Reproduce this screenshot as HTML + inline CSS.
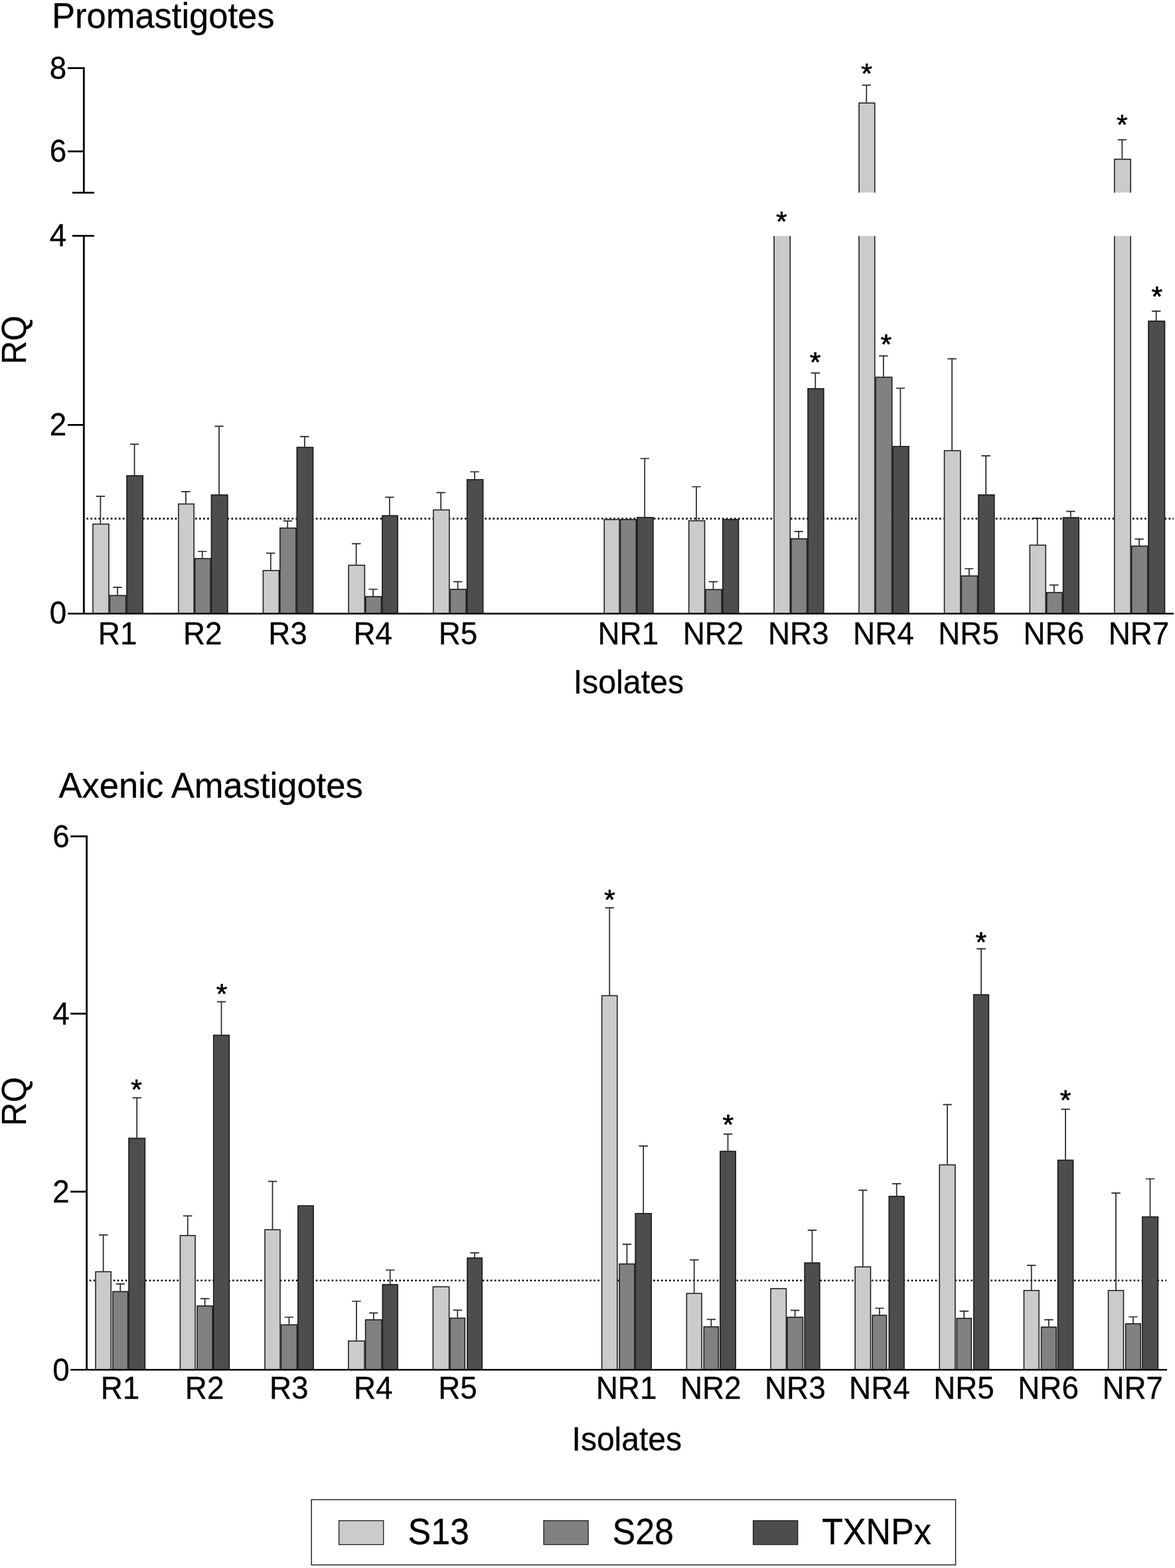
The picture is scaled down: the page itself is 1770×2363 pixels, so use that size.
<!DOCTYPE html>
<html lang="en"><head><meta charset="utf-8"><title>RQ of S13, S28 and TXNPx in isolates</title>
<style>html,body{margin:0;padding:0;background:#fff}body{width:1770px;height:2363px;overflow:hidden}svg{display:block}text{font-family:"Liberation Sans", sans-serif;fill:#000;stroke:#000;stroke-width:.3px}text.st{stroke-width:.7px;stroke-linejoin:round}</style>
</head><body>
<svg width="1770" height="2363" viewBox="0 0 1770 2363">
<rect width="1770" height="2363" fill="#fff"/>
<g id="chart1">
<text transform="translate(78,42.4) scale(1,1.03)" font-size="52.5">Promastigotes</text>
<text transform="translate(39,512.3) rotate(-90) scale(1,1.04)" font-size="49" text-anchor="middle">RQ</text>
<text transform="translate(946.9,1045) scale(1,1.035)" font-size="48.3" text-anchor="middle">Isolates</text>
<line x1="130.3" y1="781.7" x2="1768" y2="781.7" stroke="#111" stroke-width="2.7" stroke-dasharray="2.7 3.36"/>
<rect x="139.2" y="789" width="25.45" height="135" fill="#cbcbcb"/>
<path d="M139.95 924V789.75H163.9V924" fill="none" stroke="#1a1a1a" stroke-width="1.5"/>
<path d="M151.33 789V747.9M144.63 747.9H158.03" fill="none" stroke="#262626" stroke-width="1.7"/>
<rect x="164.65" y="896.8" width="25.75" height="27.2" fill="#818181"/>
<path d="M165.4 924V897.55H189.65V924" fill="none" stroke="#1a1a1a" stroke-width="1.5"/>
<path d="M176.92 896.8V885.1M170.22 885.1H183.62" fill="none" stroke="#262626" stroke-width="1.7"/>
<rect x="190.4" y="716.2" width="25.55" height="207.8" fill="#4d4d4d"/>
<path d="M191.15 924V716.95H215.2V924" fill="none" stroke="#1a1a1a" stroke-width="1.5"/>
<path d="M202.57 716.2V669.4M195.88 669.4H209.27" fill="none" stroke="#262626" stroke-width="1.7"/>
<text transform="translate(177.1,970.5) scale(1,1.04)" font-size="45.8" text-anchor="middle">R1</text>
<rect x="268.1" y="758.8" width="24.8" height="165.2" fill="#cbcbcb"/>
<path d="M268.85 924V759.55H292.15V924" fill="none" stroke="#1a1a1a" stroke-width="1.5"/>
<path d="M279.9 758.8V740.9M273.2 740.9H286.6" fill="none" stroke="#262626" stroke-width="1.7"/>
<rect x="292.9" y="841.1" width="24.85" height="82.9" fill="#818181"/>
<path d="M293.65 924V841.85H317V924" fill="none" stroke="#1a1a1a" stroke-width="1.5"/>
<path d="M304.72 841.1V831M298.02 831H311.42" fill="none" stroke="#262626" stroke-width="1.7"/>
<rect x="317.75" y="745.2" width="25.75" height="178.8" fill="#4d4d4d"/>
<path d="M318.5 924V745.95H342.75V924" fill="none" stroke="#1a1a1a" stroke-width="1.5"/>
<path d="M330.02 745.2V642.3M323.32 642.3H336.72" fill="none" stroke="#262626" stroke-width="1.7"/>
<text transform="translate(305.3,970.5) scale(1,1.04)" font-size="45.8" text-anchor="middle">R2</text>
<rect x="395.7" y="859" width="25.35" height="65" fill="#cbcbcb"/>
<path d="M396.45 924V859.75H420.3V924" fill="none" stroke="#1a1a1a" stroke-width="1.5"/>
<path d="M407.77 859V833.7M401.07 833.7H414.47" fill="none" stroke="#262626" stroke-width="1.7"/>
<rect x="421.05" y="795" width="25.6" height="129" fill="#818181"/>
<path d="M421.8 924V795.75H445.9V924" fill="none" stroke="#1a1a1a" stroke-width="1.5"/>
<path d="M433.25 795V785.2M426.55 785.2H439.95" fill="none" stroke="#262626" stroke-width="1.7"/>
<rect x="446.65" y="673.6" width="25.55" height="250.4" fill="#4d4d4d"/>
<path d="M447.4 924V674.35H471.45V924" fill="none" stroke="#1a1a1a" stroke-width="1.5"/>
<path d="M458.82 673.6V657.9M452.12 657.9H465.52" fill="none" stroke="#262626" stroke-width="1.7"/>
<text transform="translate(433.5,970.5) scale(1,1.04)" font-size="45.8" text-anchor="middle">R3</text>
<rect x="524.4" y="851" width="25.7" height="73" fill="#cbcbcb"/>
<path d="M525.15 924V851.75H549.35V924" fill="none" stroke="#1a1a1a" stroke-width="1.5"/>
<path d="M536.65 851V819.4M529.95 819.4H543.35" fill="none" stroke="#262626" stroke-width="1.7"/>
<rect x="550.1" y="898.4" width="25.05" height="25.6" fill="#818181"/>
<path d="M550.85 924V899.15H574.4V924" fill="none" stroke="#1a1a1a" stroke-width="1.5"/>
<path d="M562.02 898.4V888M555.32 888H568.73" fill="none" stroke="#262626" stroke-width="1.7"/>
<rect x="575.15" y="776.5" width="24.55" height="147.5" fill="#4d4d4d"/>
<path d="M575.9 924V777.25H598.95V924" fill="none" stroke="#1a1a1a" stroke-width="1.5"/>
<path d="M586.82 776.5V749.4M580.12 749.4H593.52" fill="none" stroke="#262626" stroke-width="1.7"/>
<text transform="translate(561.7,970.5) scale(1,1.04)" font-size="45.8" text-anchor="middle">R4</text>
<rect x="652" y="767.8" width="25.55" height="156.2" fill="#cbcbcb"/>
<path d="M652.75 924V768.55H676.8V924" fill="none" stroke="#1a1a1a" stroke-width="1.5"/>
<path d="M664.17 767.8V742.4M657.47 742.4H670.88" fill="none" stroke="#262626" stroke-width="1.7"/>
<rect x="677.55" y="887.5" width="25.35" height="36.5" fill="#818181"/>
<path d="M678.3 924V888.25H702.15V924" fill="none" stroke="#1a1a1a" stroke-width="1.5"/>
<path d="M689.62 887.5V876.6M682.92 876.6H696.32" fill="none" stroke="#262626" stroke-width="1.7"/>
<rect x="702.9" y="722.1" width="25.4" height="201.9" fill="#4d4d4d"/>
<path d="M703.65 924V722.85H727.55V924" fill="none" stroke="#1a1a1a" stroke-width="1.5"/>
<path d="M715 722.1V711M708.3 711H721.7" fill="none" stroke="#262626" stroke-width="1.7"/>
<text transform="translate(689.9,970.5) scale(1,1.04)" font-size="45.8" text-anchor="middle">R5</text>
<rect x="909.5" y="782.3" width="24.3" height="141.7" fill="#cbcbcb"/>
<path d="M910.25 924V783.05H933.05V924" fill="none" stroke="#1a1a1a" stroke-width="1.5"/>
<rect x="933.8" y="782.3" width="25.3" height="141.7" fill="#818181"/>
<path d="M934.55 924V783.05H958.35V924" fill="none" stroke="#1a1a1a" stroke-width="1.5"/>
<rect x="959.1" y="779.1" width="25.4" height="144.9" fill="#4d4d4d"/>
<path d="M959.85 924V779.85H983.75V924" fill="none" stroke="#1a1a1a" stroke-width="1.5"/>
<path d="M971.2 779.1V691M964.5 691H977.9" fill="none" stroke="#262626" stroke-width="1.7"/>
<text transform="translate(946.3,970.5) scale(1,1.04)" font-size="45.8" text-anchor="middle">NR1</text>
<rect x="1036.9" y="784" width="25.35" height="140" fill="#cbcbcb"/>
<path d="M1037.65 924V784.75H1061.5V924" fill="none" stroke="#1a1a1a" stroke-width="1.5"/>
<path d="M1048.98 784V733.5M1042.28 733.5H1055.68" fill="none" stroke="#262626" stroke-width="1.7"/>
<rect x="1062.25" y="887.7" width="25.7" height="36.3" fill="#818181"/>
<path d="M1063 924V888.45H1087.2V924" fill="none" stroke="#1a1a1a" stroke-width="1.5"/>
<path d="M1074.5 887.7V876.6M1067.8 876.6H1081.2" fill="none" stroke="#262626" stroke-width="1.7"/>
<rect x="1087.95" y="782.3" width="25.25" height="141.7" fill="#4d4d4d"/>
<path d="M1088.7 924V783.05H1112.45V924" fill="none" stroke="#1a1a1a" stroke-width="1.5"/>
<text transform="translate(1074.5,970.5) scale(1,1.04)" font-size="45.8" text-anchor="middle">NR2</text>
<rect x="1165.3" y="355.6" width="25.7" height="568.4" fill="#cbcbcb"/>
<path d="M1166.05 355.6V924M1190.25 355.6V924" fill="none" stroke="#1a1a1a" stroke-width="1.5"/>
<rect x="1191" y="811.2" width="25.35" height="112.8" fill="#818181"/>
<path d="M1191.75 924V811.95H1215.6V924" fill="none" stroke="#1a1a1a" stroke-width="1.5"/>
<path d="M1203.08 811.2V800.8M1196.38 800.8H1209.78" fill="none" stroke="#262626" stroke-width="1.7"/>
<rect x="1216.35" y="584.9" width="25.05" height="339.1" fill="#4d4d4d"/>
<path d="M1217.1 924V585.65H1240.65V924" fill="none" stroke="#1a1a1a" stroke-width="1.5"/>
<path d="M1228.28 584.9V562.2M1221.58 562.2H1234.98" fill="none" stroke="#262626" stroke-width="1.7"/>
<text transform="translate(1202.7,970.5) scale(1,1.04)" font-size="45.8" text-anchor="middle">NR3</text>
<rect x="1293.3" y="355.6" width="25.15" height="568.4" fill="#cbcbcb"/>
<path d="M1294.05 355.6V924M1317.7 355.6V924" fill="none" stroke="#1a1a1a" stroke-width="1.5"/>
<rect x="1293.3" y="154.5" width="25.15" height="135.7" fill="#cbcbcb"/>
<path d="M1294.05 290.2V155.25H1317.7V290.2" fill="none" stroke="#1a1a1a" stroke-width="1.5"/>
<path d="M1305.28 154.5V128.3M1298.58 128.3H1311.98" fill="none" stroke="#262626" stroke-width="1.7"/>
<rect x="1318.45" y="567.8" width="25.9" height="356.2" fill="#818181"/>
<path d="M1319.2 924V568.55H1343.6V924" fill="none" stroke="#1a1a1a" stroke-width="1.5"/>
<path d="M1330.8 567.8V536.3M1324.1 536.3H1337.5" fill="none" stroke="#262626" stroke-width="1.7"/>
<rect x="1344.35" y="672" width="25.25" height="252" fill="#4d4d4d"/>
<path d="M1345.1 924V672.75H1368.85V924" fill="none" stroke="#1a1a1a" stroke-width="1.5"/>
<path d="M1356.38 672V585M1349.67 585H1363.08" fill="none" stroke="#262626" stroke-width="1.7"/>
<text transform="translate(1330.9,970.5) scale(1,1.04)" font-size="45.8" text-anchor="middle">NR4</text>
<rect x="1421.8" y="678.6" width="25.75" height="245.4" fill="#cbcbcb"/>
<path d="M1422.55 924V679.35H1446.8V924" fill="none" stroke="#1a1a1a" stroke-width="1.5"/>
<path d="M1434.08 678.6V540.7M1427.38 540.7H1440.78" fill="none" stroke="#262626" stroke-width="1.7"/>
<rect x="1447.55" y="867.2" width="25.7" height="56.8" fill="#818181"/>
<path d="M1448.3 924V867.95H1472.5V924" fill="none" stroke="#1a1a1a" stroke-width="1.5"/>
<path d="M1459.8 867.2V857M1453.1 857H1466.5" fill="none" stroke="#262626" stroke-width="1.7"/>
<rect x="1473.25" y="745" width="25.15" height="179" fill="#4d4d4d"/>
<path d="M1474 924V745.75H1497.65V924" fill="none" stroke="#1a1a1a" stroke-width="1.5"/>
<path d="M1485.23 745V686.8M1478.53 686.8H1491.93" fill="none" stroke="#262626" stroke-width="1.7"/>
<text transform="translate(1459.1,970.5) scale(1,1.04)" font-size="45.8" text-anchor="middle">NR5</text>
<rect x="1550.6" y="820.8" width="25.4" height="103.2" fill="#cbcbcb"/>
<path d="M1551.35 924V821.55H1575.25V924" fill="none" stroke="#1a1a1a" stroke-width="1.5"/>
<path d="M1562.7 820.8V781.2M1556 781.2H1569.4" fill="none" stroke="#262626" stroke-width="1.7"/>
<rect x="1576" y="892.3" width="24.85" height="31.7" fill="#818181"/>
<path d="M1576.75 924V893.05H1600.1V924" fill="none" stroke="#1a1a1a" stroke-width="1.5"/>
<path d="M1587.83 892.3V881.7M1581.12 881.7H1594.53" fill="none" stroke="#262626" stroke-width="1.7"/>
<rect x="1600.85" y="779.4" width="25.15" height="144.6" fill="#4d4d4d"/>
<path d="M1601.6 924V780.15H1625.25V924" fill="none" stroke="#1a1a1a" stroke-width="1.5"/>
<path d="M1612.83 779.4V770.7M1606.12 770.7H1619.53" fill="none" stroke="#262626" stroke-width="1.7"/>
<text transform="translate(1587.3,970.5) scale(1,1.04)" font-size="45.8" text-anchor="middle">NR6</text>
<rect x="1678" y="355.6" width="25.9" height="568.4" fill="#cbcbcb"/>
<path d="M1678.75 355.6V924M1703.15 355.6V924" fill="none" stroke="#1a1a1a" stroke-width="1.5"/>
<rect x="1678" y="239.2" width="25.9" height="51" fill="#cbcbcb"/>
<path d="M1678.75 290.2V239.95H1703.15V290.2" fill="none" stroke="#1a1a1a" stroke-width="1.5"/>
<path d="M1690.35 239.2V210.6M1683.65 210.6H1697.05" fill="none" stroke="#262626" stroke-width="1.7"/>
<rect x="1703.9" y="822.3" width="25.55" height="101.7" fill="#818181"/>
<path d="M1704.65 924V823.05H1728.7V924" fill="none" stroke="#1a1a1a" stroke-width="1.5"/>
<path d="M1716.08 822.3V812.3M1709.38 812.3H1722.78" fill="none" stroke="#262626" stroke-width="1.7"/>
<rect x="1729.45" y="483.3" width="25.75" height="440.7" fill="#4d4d4d"/>
<path d="M1730.2 924V484.05H1754.45V924" fill="none" stroke="#1a1a1a" stroke-width="1.5"/>
<path d="M1741.73 483.3V468.9M1735.03 468.9H1748.43" fill="none" stroke="#262626" stroke-width="1.7"/>
<text transform="translate(1715.5,970.5) scale(1,1.04)" font-size="45.8" text-anchor="middle">NR7</text>
<text x="1177.3" y="347.8" font-size="43" text-anchor="middle" class="st">*</text>
<text x="1228.2" y="560.1" font-size="43" text-anchor="middle" class="st">*</text>
<text x="1305.5" y="125.3" font-size="43" text-anchor="middle" class="st">*</text>
<text x="1334.9" y="533.1" font-size="43" text-anchor="middle" class="st">*</text>
<text x="1690.4" y="201.6" font-size="43" text-anchor="middle" class="st">*</text>
<text x="1742.9" y="460.6" font-size="43" text-anchor="middle" class="st">*</text>
<path d="M126.3 925V355.4M109 355.4H142M126.3 290.4V101.2M109 290.4H142M102 102.65H126.3M102 228.1H126.3M102 640.3H126.3" fill="none" stroke="#000" stroke-width="2.8"/>
<line x1="102" y1="924.7" x2="1768" y2="924.7" stroke="#000" stroke-width="2.6"/>
<text transform="translate(100.3,118.9) scale(1,1.04)" font-size="45.8" text-anchor="end">8</text>
<text transform="translate(100.3,244.3) scale(1,1.04)" font-size="45.8" text-anchor="end">6</text>
<text transform="translate(100.3,371) scale(1,1.04)" font-size="45.8" text-anchor="end">4</text>
<text transform="translate(100.3,655.9) scale(1,1.04)" font-size="45.8" text-anchor="end">2</text>
<text transform="translate(100.3,940.1) scale(1,1.04)" font-size="45.8" text-anchor="end">0</text>
</g>
<g id="chart2">
<text transform="translate(88.6,1202.3) scale(1,1.03)" font-size="52.5">Axenic Amastigotes</text>
<text transform="translate(39.2,1660) rotate(-90) scale(1,1.04)" font-size="49" text-anchor="middle">RQ</text>
<text transform="translate(944.3,2186) scale(1,1.04)" font-size="48" text-anchor="middle">Isolates</text>
<line x1="134.9" y1="1929.7" x2="1757" y2="1929.7" stroke="#000" stroke-width="2.5" stroke-dasharray="2.5 3.48"/>
<rect x="143.3" y="1915.8" width="24.7" height="147.9" fill="#cbcbcb"/>
<path d="M144.05 2063.7V1916.55H167.25V2063.7" fill="none" stroke="#1a1a1a" stroke-width="1.5"/>
<path d="M155.65 1915.8V1861.2M148.95 1861.2H162.35" fill="none" stroke="#262626" stroke-width="1.7"/>
<rect x="169.2" y="1945.7" width="24.15" height="118" fill="#818181"/>
<path d="M169.95 2063.7V1946.45H192.6V2063.7" fill="none" stroke="#1a1a1a" stroke-width="1.5"/>
<path d="M181.27 1945.7V1934.9M174.57 1934.9H187.97" fill="none" stroke="#262626" stroke-width="1.7"/>
<rect x="193.35" y="1714.7" width="25.75" height="349" fill="#4d4d4d"/>
<path d="M194.1 2063.7V1715.45H218.35V2063.7" fill="none" stroke="#1a1a1a" stroke-width="1.5"/>
<path d="M206.22 1714.7V1654.3M199.53 1654.3H212.92" fill="none" stroke="#262626" stroke-width="1.7"/>
<text transform="translate(181,2108) scale(1,1.04)" font-size="45.8" text-anchor="middle">R1</text>
<rect x="270.7" y="1861.2" width="24.1" height="202.5" fill="#cbcbcb"/>
<path d="M271.45 2063.7V1861.95H294.05V2063.7" fill="none" stroke="#1a1a1a" stroke-width="1.5"/>
<path d="M282.75 1861.2V1832.3M276.05 1832.3H289.45" fill="none" stroke="#262626" stroke-width="1.7"/>
<rect x="296.3" y="1967.4" width="24.65" height="96.3" fill="#818181"/>
<path d="M297.05 2063.7V1968.15H320.2V2063.7" fill="none" stroke="#1a1a1a" stroke-width="1.5"/>
<path d="M308.62 1967.4V1957.2M301.93 1957.2H315.32" fill="none" stroke="#262626" stroke-width="1.7"/>
<rect x="320.95" y="1559.5" width="25.15" height="504.2" fill="#4d4d4d"/>
<path d="M321.7 2063.7V1560.25H345.35V2063.7" fill="none" stroke="#1a1a1a" stroke-width="1.5"/>
<path d="M333.52 1559.5V1509.6M326.82 1509.6H340.22" fill="none" stroke="#262626" stroke-width="1.7"/>
<text transform="translate(308.1,2108) scale(1,1.04)" font-size="45.8" text-anchor="middle">R2</text>
<rect x="398.3" y="1852.5" width="24.4" height="211.2" fill="#cbcbcb"/>
<path d="M399.05 2063.7V1853.25H421.95V2063.7" fill="none" stroke="#1a1a1a" stroke-width="1.5"/>
<path d="M410.5 1852.5V1780.4M403.8 1780.4H417.2" fill="none" stroke="#262626" stroke-width="1.7"/>
<rect x="422.7" y="1995.8" width="25.45" height="67.9" fill="#818181"/>
<path d="M423.45 2063.7V1996.55H447.4V2063.7" fill="none" stroke="#1a1a1a" stroke-width="1.5"/>
<path d="M435.42 1995.8V1985M428.72 1985H442.12" fill="none" stroke="#262626" stroke-width="1.7"/>
<rect x="448.15" y="1816.6" width="24.65" height="247.1" fill="#4d4d4d"/>
<path d="M448.9 2063.7V1817.35H472.05V2063.7" fill="none" stroke="#1a1a1a" stroke-width="1.5"/>
<text transform="translate(435.2,2108) scale(1,1.04)" font-size="45.8" text-anchor="middle">R3</text>
<rect x="524.1" y="2020.2" width="25.75" height="43.5" fill="#cbcbcb"/>
<path d="M524.85 2063.7V2020.95H549.1V2063.7" fill="none" stroke="#1a1a1a" stroke-width="1.5"/>
<path d="M536.98 2020.2V1961M530.27 1961H543.68" fill="none" stroke="#262626" stroke-width="1.7"/>
<rect x="549.85" y="1988.3" width="25.8" height="75.4" fill="#818181"/>
<path d="M550.6 2063.7V1989.05H574.9V2063.7" fill="none" stroke="#1a1a1a" stroke-width="1.5"/>
<path d="M562.75 1988.3V1978.7M556.05 1978.7H569.45" fill="none" stroke="#262626" stroke-width="1.7"/>
<rect x="575.65" y="1935.2" width="24.05" height="128.5" fill="#4d4d4d"/>
<path d="M576.4 2063.7V1935.95H598.95V2063.7" fill="none" stroke="#1a1a1a" stroke-width="1.5"/>
<path d="M587.67 1935.2V1914M580.97 1914H594.38" fill="none" stroke="#262626" stroke-width="1.7"/>
<text transform="translate(562.3,2108) scale(1,1.04)" font-size="45.8" text-anchor="middle">R4</text>
<rect x="651.6" y="1938.4" width="25.75" height="125.3" fill="#cbcbcb"/>
<path d="M652.35 2063.7V1939.15H676.6V2063.7" fill="none" stroke="#1a1a1a" stroke-width="1.5"/>
<rect x="677.35" y="1985.7" width="23.75" height="78" fill="#818181"/>
<path d="M678.1 2063.7V1986.45H700.35V2063.7" fill="none" stroke="#1a1a1a" stroke-width="1.5"/>
<path d="M689.23 1985.7V1974.3M682.52 1974.3H695.93" fill="none" stroke="#262626" stroke-width="1.7"/>
<rect x="703.3" y="1895.1" width="23.6" height="168.6" fill="#4d4d4d"/>
<path d="M704.05 2063.7V1895.85H726.15V2063.7" fill="none" stroke="#1a1a1a" stroke-width="1.5"/>
<path d="M715.1 1895.1V1888.1M708.4 1888.1H721.8" fill="none" stroke="#262626" stroke-width="1.7"/>
<text transform="translate(689.4,2108) scale(1,1.04)" font-size="45.8" text-anchor="middle">R5</text>
<rect x="905.9" y="1499.7" width="24.6" height="564" fill="#cbcbcb"/>
<path d="M906.65 2063.7V1500.45H929.75V2063.7" fill="none" stroke="#1a1a1a" stroke-width="1.5"/>
<path d="M918.2 1499.7V1368.1M911.5 1368.1H924.9" fill="none" stroke="#262626" stroke-width="1.7"/>
<rect x="932.3" y="1904.1" width="24.25" height="159.6" fill="#818181"/>
<path d="M933.05 2063.7V1904.85H955.8V2063.7" fill="none" stroke="#1a1a1a" stroke-width="1.5"/>
<path d="M944.42 1904.1V1875.2M937.72 1875.2H951.12" fill="none" stroke="#262626" stroke-width="1.7"/>
<rect x="956.55" y="1828.1" width="25.35" height="235.6" fill="#4d4d4d"/>
<path d="M957.3 2063.7V1828.85H981.15V2063.7" fill="none" stroke="#1a1a1a" stroke-width="1.5"/>
<path d="M969.22 1828.1V1727.2M962.52 1727.2H975.92" fill="none" stroke="#262626" stroke-width="1.7"/>
<text transform="translate(943.6,2108) scale(1,1.04)" font-size="45.8" text-anchor="middle">NR1</text>
<rect x="1033.6" y="1948.6" width="24.2" height="115.1" fill="#cbcbcb"/>
<path d="M1034.35 2063.7V1949.35H1057.05V2063.7" fill="none" stroke="#1a1a1a" stroke-width="1.5"/>
<path d="M1045.7 1948.6V1898.7M1039 1898.7H1052.4" fill="none" stroke="#262626" stroke-width="1.7"/>
<rect x="1059.6" y="1998.8" width="23.5" height="64.9" fill="#818181"/>
<path d="M1060.35 2063.7V1999.55H1082.35V2063.7" fill="none" stroke="#1a1a1a" stroke-width="1.5"/>
<path d="M1071.35 1998.8V1988.4M1064.65 1988.4H1078.05" fill="none" stroke="#262626" stroke-width="1.7"/>
<rect x="1084.2" y="1734.5" width="24.6" height="329.2" fill="#4d4d4d"/>
<path d="M1084.95 2063.7V1735.25H1108.05V2063.7" fill="none" stroke="#1a1a1a" stroke-width="1.5"/>
<path d="M1096.5 1734.5V1709.2M1089.8 1709.2H1103.2" fill="none" stroke="#262626" stroke-width="1.7"/>
<text transform="translate(1070.7,2108) scale(1,1.04)" font-size="45.8" text-anchor="middle">NR2</text>
<rect x="1160.2" y="1941.3" width="24.95" height="122.4" fill="#cbcbcb"/>
<path d="M1160.95 2063.7V1942.05H1184.4V2063.7" fill="none" stroke="#1a1a1a" stroke-width="1.5"/>
<rect x="1185.15" y="1984.4" width="24.95" height="79.3" fill="#818181"/>
<path d="M1185.9 2063.7V1985.15H1209.35V2063.7" fill="none" stroke="#1a1a1a" stroke-width="1.5"/>
<path d="M1197.62 1984.4V1974.6M1190.92 1974.6H1204.33" fill="none" stroke="#262626" stroke-width="1.7"/>
<rect x="1211.5" y="1902.6" width="23.9" height="161.1" fill="#4d4d4d"/>
<path d="M1212.25 2063.7V1903.35H1234.65V2063.7" fill="none" stroke="#1a1a1a" stroke-width="1.5"/>
<path d="M1223.45 1902.6V1853.8M1216.75 1853.8H1230.15" fill="none" stroke="#262626" stroke-width="1.7"/>
<text transform="translate(1197.8,2108) scale(1,1.04)" font-size="45.8" text-anchor="middle">NR3</text>
<rect x="1287.4" y="1908.6" width="24.8" height="155.1" fill="#cbcbcb"/>
<path d="M1288.15 2063.7V1909.35H1311.45V2063.7" fill="none" stroke="#1a1a1a" stroke-width="1.5"/>
<path d="M1299.8 1908.6V1793.7M1293.1 1793.7H1306.5" fill="none" stroke="#262626" stroke-width="1.7"/>
<rect x="1313.5" y="1981.5" width="22.7" height="82.2" fill="#818181"/>
<path d="M1314.25 2063.7V1982.25H1335.45V2063.7" fill="none" stroke="#1a1a1a" stroke-width="1.5"/>
<path d="M1324.85 1981.5V1971.5M1318.15 1971.5H1331.55" fill="none" stroke="#262626" stroke-width="1.7"/>
<rect x="1338.6" y="1802.2" width="24.1" height="261.5" fill="#4d4d4d"/>
<path d="M1339.35 2063.7V1802.95H1361.95V2063.7" fill="none" stroke="#1a1a1a" stroke-width="1.5"/>
<path d="M1350.65 1802.2V1783.8M1343.95 1783.8H1357.35" fill="none" stroke="#262626" stroke-width="1.7"/>
<text transform="translate(1324.9,2108) scale(1,1.04)" font-size="45.8" text-anchor="middle">NR4</text>
<rect x="1414.5" y="1754.7" width="25.1" height="309" fill="#cbcbcb"/>
<path d="M1415.25 2063.7V1755.45H1438.85V2063.7" fill="none" stroke="#1a1a1a" stroke-width="1.5"/>
<path d="M1427.05 1754.7V1664.7M1420.35 1664.7H1433.75" fill="none" stroke="#262626" stroke-width="1.7"/>
<rect x="1440.6" y="1985.9" width="23.4" height="77.8" fill="#818181"/>
<path d="M1441.35 2063.7V1986.65H1463.25V2063.7" fill="none" stroke="#1a1a1a" stroke-width="1.5"/>
<path d="M1452.3 1985.9V1975.9M1445.6 1975.9H1459" fill="none" stroke="#262626" stroke-width="1.7"/>
<rect x="1466" y="1498.4" width="24.1" height="565.3" fill="#4d4d4d"/>
<path d="M1466.75 2063.7V1499.15H1489.35V2063.7" fill="none" stroke="#1a1a1a" stroke-width="1.5"/>
<path d="M1478.05 1498.4V1429.8M1471.35 1429.8H1484.75" fill="none" stroke="#262626" stroke-width="1.7"/>
<text transform="translate(1452,2108) scale(1,1.04)" font-size="45.8" text-anchor="middle">NR5</text>
<rect x="1541.7" y="1944.1" width="24.1" height="119.6" fill="#cbcbcb"/>
<path d="M1542.45 2063.7V1944.85H1565.05V2063.7" fill="none" stroke="#1a1a1a" stroke-width="1.5"/>
<path d="M1553.75 1944.1V1906.9M1547.05 1906.9H1560.45" fill="none" stroke="#262626" stroke-width="1.7"/>
<rect x="1567.8" y="1999.3" width="24" height="64.4" fill="#818181"/>
<path d="M1568.55 2063.7V2000.05H1591.05V2063.7" fill="none" stroke="#1a1a1a" stroke-width="1.5"/>
<path d="M1579.8 1999.3V1988.9M1573.1 1988.9H1586.5" fill="none" stroke="#262626" stroke-width="1.7"/>
<rect x="1592.8" y="1747.7" width="24.5" height="316" fill="#4d4d4d"/>
<path d="M1593.55 2063.7V1748.45H1616.55V2063.7" fill="none" stroke="#1a1a1a" stroke-width="1.5"/>
<path d="M1605.05 1747.7V1671.7M1598.35 1671.7H1611.75" fill="none" stroke="#262626" stroke-width="1.7"/>
<text transform="translate(1579.1,2108) scale(1,1.04)" font-size="45.8" text-anchor="middle">NR6</text>
<rect x="1668.8" y="1944.1" width="24.4" height="119.6" fill="#cbcbcb"/>
<path d="M1669.55 2063.7V1944.85H1692.45V2063.7" fill="none" stroke="#1a1a1a" stroke-width="1.5"/>
<path d="M1681 1944.1V1797.9M1674.3 1797.9H1687.7" fill="none" stroke="#262626" stroke-width="1.7"/>
<rect x="1694.9" y="1994.2" width="24.1" height="69.5" fill="#818181"/>
<path d="M1695.65 2063.7V1994.95H1718.25V2063.7" fill="none" stroke="#1a1a1a" stroke-width="1.5"/>
<path d="M1706.95 1994.2V1984.5M1700.25 1984.5H1713.65" fill="none" stroke="#262626" stroke-width="1.7"/>
<rect x="1720" y="1833.3" width="25.1" height="230.4" fill="#4d4d4d"/>
<path d="M1720.75 2063.7V1834.05H1744.35V2063.7" fill="none" stroke="#1a1a1a" stroke-width="1.5"/>
<path d="M1732.55 1833.3V1776.5M1725.85 1776.5H1739.25" fill="none" stroke="#262626" stroke-width="1.7"/>
<text transform="translate(1706.2,2108) scale(1,1.04)" font-size="45.8" text-anchor="middle">NR7</text>
<text x="205.6" y="1656" font-size="43" text-anchor="middle" class="st">*</text>
<text x="334.2" y="1511.5" font-size="43" text-anchor="middle" class="st">*</text>
<text x="918.3" y="1369.8" font-size="43" text-anchor="middle" class="st">*</text>
<text x="1096.8" y="1709.3" font-size="43" text-anchor="middle" class="st">*</text>
<text x="1477.8" y="1434.1" font-size="43" text-anchor="middle" class="st">*</text>
<text x="1605.1" y="1671.9" font-size="43" text-anchor="middle" class="st">*</text>
<path d="M130.6 2064.5V1259M106.2 1260.4H130.6M106.2 1527.7H130.6M106.2 1795.8H130.6" fill="none" stroke="#000" stroke-width="2.8"/>
<line x1="106.2" y1="2064.2999999999997" x2="1758" y2="2064.2999999999997" stroke="#000" stroke-width="2.6"/>
<text transform="translate(104.8,1276.8) scale(1,1.04)" font-size="45.8" text-anchor="end">6</text>
<text transform="translate(104.8,1543.9) scale(1,1.04)" font-size="45.8" text-anchor="end">4</text>
<text transform="translate(104.8,1812.1) scale(1,1.04)" font-size="45.8" text-anchor="end">2</text>
<text transform="translate(104.8,2081) scale(1,1.04)" font-size="45.8" text-anchor="end">0</text>
</g>
<g id="legend">
<rect x="469.2" y="2260" width="970.3" height="98.4" fill="#fff" stroke="#161616" stroke-width="1.4"/>
<rect x="510.6" y="2291.7" width="67.1" height="36" fill="#cbcbcb" stroke="#1c1c1c" stroke-width="1.3"/>
<text transform="translate(614.5,2327.2) scale(1,1.065)" font-size="52">S13</text>
<rect x="819.0" y="2291.7" width="67.1" height="36" fill="#818181" stroke="#1c1c1c" stroke-width="1.3"/>
<text transform="translate(922.5,2327.2) scale(1,1.065)" font-size="52">S28</text>
<rect x="1134.6" y="2291.7" width="67.1" height="36" fill="#4d4d4d" stroke="#1c1c1c" stroke-width="1.3"/>
<text transform="translate(1238,2327.2) scale(1,1.065)" font-size="52">TXNPx</text>
</g>
</svg></body></html>
